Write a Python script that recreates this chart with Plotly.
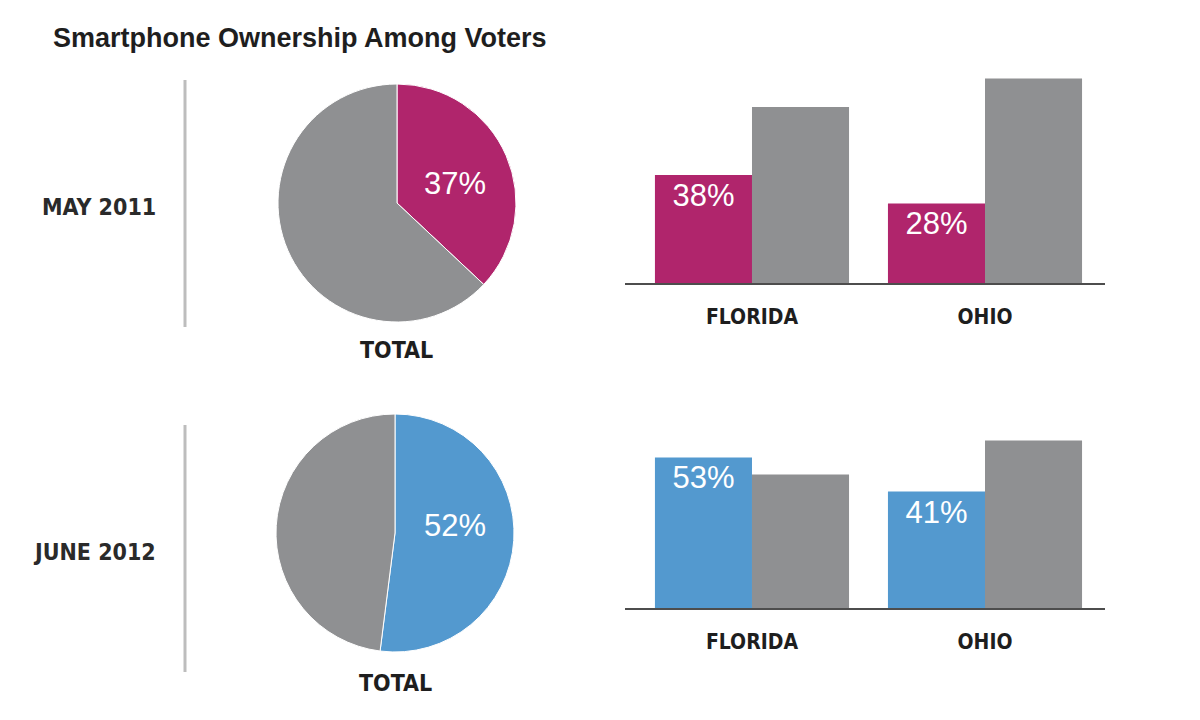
import plotly.graph_objects as go

W, H = 1200, 720

title_text = "Smartphone Ownership Among Voters"
periods = ["MAY 2011", "JUNE 2012"]
states = ["FLORIDA", "OHIO"]
slice_labels = ["Own smartphone", "Other"]

may_total = [37, 63]
june_total = [52, 48]
may_states_own = [38, 28]
may_states_other = [62, 72]
june_states_own = [53, 41]
june_states_other = [47, 59]

PINK = "#b0256c"
BLUE = "#5399cf"
GRAY = "#8f9092"
COND = "DejaVu Sans Condensed, Liberation Sans Narrow, Arial Narrow, sans-serif"
SANS = "Liberation Sans, Arial, Helvetica, sans-serif"


def px(x):
    return x / W


def py(y):
    return 1 - y / H


fig = go.Figure()

# Pies
fig.add_trace(go.Pie(
    labels=slice_labels, values=may_total, sort=False, direction="clockwise", rotation=0,
    marker=dict(colors=[PINK, GRAY], line=dict(color="white", width=1)),
    textinfo="none", hoverinfo="label+percent", showlegend=False,
    domain=dict(x=[px(278), px(516)], y=[py(322), py(84)]),
))
fig.add_trace(go.Pie(
    labels=slice_labels, values=june_total, sort=False, direction="clockwise", rotation=0,
    marker=dict(colors=[BLUE, GRAY], line=dict(color="white", width=1)),
    textinfo="none", hoverinfo="label+percent", showlegend=False,
    domain=dict(x=[px(276), px(514)], y=[py(652), py(414)]),
))

bar_font = dict(family=SANS, size=31, color="white")

# Row 1 bars
fig.add_trace(go.Bar(x=states, y=may_states_own, marker=dict(color=PINK, line=dict(width=0)),
                     texttemplate="%{y}%", textposition="inside", insidetextanchor="end",
                     textfont=bar_font, showlegend=False, xaxis="x", yaxis="y"))
fig.add_trace(go.Bar(x=states, y=may_states_other, marker=dict(color=GRAY, line=dict(width=0)),
                     showlegend=False, xaxis="x", yaxis="y"))
# Row 2 bars
fig.add_trace(go.Bar(x=states, y=june_states_own, marker=dict(color=BLUE, line=dict(width=0)),
                     texttemplate="%{y}%", textposition="inside", insidetextanchor="end",
                     textfont=bar_font, showlegend=False, xaxis="x2", yaxis="y2"))
fig.add_trace(go.Bar(x=states, y=june_states_other, marker=dict(color=GRAY, line=dict(width=0)),
                     showlegend=False, xaxis="x2", yaxis="y2"))

xcommon = dict(domain=[px(625), px(1105)], range=[-0.545, 1.515], type="category",
               showline=True, linecolor="#4d4d4d", linewidth=2, showgrid=False, zeroline=False,
               ticks="outside", ticklen=14, tickcolor="rgba(0,0,0,0)",
               tickfont=dict(family=COND, size=21, color="#1e1e1e", weight="bold"), fixedrange=True)
ycommon = dict(range=[0, 75], showgrid=False, zeroline=False, showticklabels=False,
               showline=False, fixedrange=True)

fig.update_layout(
    width=W, height=H, margin=dict(l=0, r=0, t=0, b=0),
    paper_bgcolor="white", plot_bgcolor="white",
    barmode="group", bargap=0.167, bargroupgap=0.0,
    xaxis=dict(anchor="y", **xcommon),
    yaxis=dict(anchor="x", domain=[py(283), py(70)], **ycommon),
    xaxis2=dict(anchor="y2", **xcommon),
    yaxis2=dict(anchor="x2", domain=[py(608), py(395)], **ycommon),
)

# Separator lines
for y0, y1 in [(80, 327), (425, 672)]:
    fig.add_shape(type="line", xref="paper", yref="paper", x0=px(185), x1=px(185),
                  y0=py(y0), y1=py(y1), line=dict(color="#bdbdbd", width=3))

ann = []
ann.append(dict(text=f"<b>{title_text}</b>", x=px(51), y=py(38), xanchor="left", yanchor="middle",
                font=dict(family=SANS, size=27, color="#1e1e1e")))
ann.append(dict(text=f"<b>{periods[0]}</b>", x=px(158), y=py(207), xanchor="right", yanchor="middle",
                font=dict(family=COND, size=23, color="#2a2a2a")))
ann.append(dict(text=f"<b>{periods[1]}</b>", x=px(158), y=py(552), xanchor="right", yanchor="middle",
                font=dict(family=COND, size=23, color="#2a2a2a")))
ann.append(dict(text="<b>TOTAL</b>", x=px(396), y=py(350), xanchor="center", yanchor="middle",
                font=dict(family=COND, size=23, color="#1e1e1e")))
ann.append(dict(text="<b>TOTAL</b>", x=px(395), y=py(683), xanchor="center", yanchor="middle",
                font=dict(family=COND, size=23, color="#1e1e1e")))
ann.append(dict(text=f"{may_total[0]}%", x=px(455), y=py(183), xanchor="center", yanchor="middle",
                font=dict(family=SANS, size=31, color="white")))
ann.append(dict(text=f"{june_total[0]}%", x=px(455), y=py(525), xanchor="center", yanchor="middle",
                font=dict(family=SANS, size=31, color="white")))
for a in ann:
    a.update(xref="paper", yref="paper", showarrow=False)
fig.update_layout(annotations=ann)

fig.write_html("out.html")
